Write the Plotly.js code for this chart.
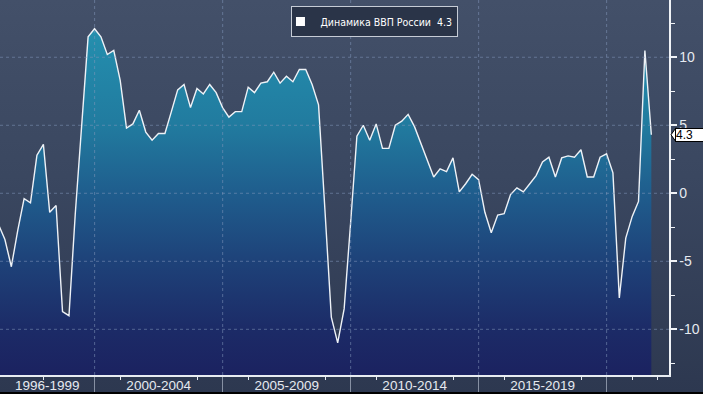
<!DOCTYPE html>
<html><head><meta charset="utf-8">
<script src="https://cdn.plot.ly/plotly-3.0.1.min.js"></script>
<style>
html,body{margin:0;padding:0;background:#000;overflow:hidden;}
#chart{width:703px;height:392px;background:linear-gradient(to bottom,#435069 0%,#3a4760 45%,#2d3850 100%);}
</style></head><body><div id="chart"></div>
<script>
// ---- data ----
const seriesName = 'Динамика ВВП России';
const startYear = 1996;          // first quarter is Q1 1996
const quarterEndDays = ['03-31', '06-30', '09-30', '12-31'];
const gdp = [
  -2.3, -3.4, -5.4, -2.7,   // 1996
  -0.4, -0.7,  2.8,  3.6,   // 1997
  -1.4, -0.9, -8.7, -9.0,   // 1998
  -1.5,  4.8, 11.5, 12.1,   // 1999
  11.5, 10.2, 10.5,  8.3,   // 2000
   4.8,  5.1,  6.1,  4.5,   // 2001
   3.9,  4.4,  4.4,  6.0,   // 2002
   7.6,  8.0,  6.3,  7.7,   // 2003
   7.3,  8.0,  7.4,  6.3,   // 2004
   5.6,  6.0,  6.0,  7.8,   // 2005
   7.4,  8.1,  8.2,  8.9,   // 2006
   8.1,  8.6,  8.2,  9.1,   // 2007
   9.1,  8.0,  6.5, -1.3,   // 2008
  -9.1,-11.0, -8.5, -2.2,   // 2009
   4.2,  5.0,  3.9,  5.1,   // 2010
   3.3,  3.3,  5.0,  5.3,   // 2011
   5.8,  4.9,  3.7,  2.5,   // 2012
   1.2,  1.8,  1.6,  2.6,   // 2013
   0.1,  0.7,  1.4,  1.0,   // 2014
  -1.4, -2.9, -1.6, -1.5,   // 2015
  -0.1,  0.4,  0.1,  0.7,   // 2016
   1.3,  2.3,  2.65, 1.2,   // 2017
   2.6,  2.75, 2.65, 3.2,   // 2018
   1.2,  1.2,  2.65, 2.9,   // 2019
   1.5, -7.7, -3.3, -1.7,   // 2020
  -0.6, 10.5,  4.3          // 2021
];
const blockStarts = ['1996-01-01', '2000-01-01', '2005-01-01', '2010-01-01', '2015-01-01', '2020-01-01', '2025-01-01'];
const blockLabels = ['1996-1999', '2000-2004', '2005-2009', '2010-2014', '2015-2019', ''];
const xMinorTicks = ['1998-01-01', '2001-01-01', '2004-01-01', '2006-01-01', '2009-01-01', '2011-01-01', '2014-01-01', '2016-01-01', '2019-01-01', '2021-01-01', '2022-01-01'];
const yTicks = [10, 5, 0, -5, -10];
const yTickText = ['10', '5', '0', '-5', '-10'];
const yMinorTicks = [12.5, 7.5, 2.5, -2.5, -7.5, -12.5];
const xRange = ['1996-04-21', '2022-06-09'];
const yRange = [-13.36, 14.21];

// ---- styles ----
const gradStops = [-13.36, -10, -5, 0, 5, 10, 12.1];
const gradColors = ['#1b2260', '#1c2b67', '#1e4279', '#1f5d8d', '#217b9f', '#2389aa', '#2590ae'];
const sans = 'Liberation Sans, Arial, sans-serif';
const xFont = {family: sans, size: 13.5, color: '#e6eaf0'};
const yFont = {family: sans, size: 14, color: '#e6eaf0'};
const legendFont = {family: 'DejaVu Sans Condensed, Liberation Sans, sans-serif', size: 10.5, color: '#ffffff'};
const gridColor = 'rgba(130,150,185,0.55)';

// ---- build ----
const dates = gdp.map((v, i) => (startYear + Math.floor(i / 4)) + '-' + quarterEndDays[i % 4]);
const baseline = dates.map(() => yRange[0]);
const lastVal = gdp[gdp.length - 1];

const g0 = gradStops[0], g1 = gradStops[gradStops.length - 1];
const colorscale = gradStops.map((s, i) => [(s - g0) / (g1 - g0), gradColors[i]]);

const ms = d => new Date(d + 'T00:00:00Z').getTime();
const labelCenters = [], labelTexts = [];
for (let i = 0; i < blockLabels.length; i++) {
  if (!blockLabels[i]) continue;
  const s = Math.max(ms(blockStarts[i]), ms(xRange[0]));
  const e = Math.min(ms(blockStarts[i + 1]), ms(xRange[1]));
  labelCenters.push((s + e) / 2);
  labelTexts.push(blockLabels[i]);
}
const separators = blockStarts.filter(d => ms(d) > ms(xRange[0]) && ms(d) < ms(xRange[1]));

const traces = [
  {x: dates, y: baseline, mode: 'lines', line: {width: 0, color: 'rgba(0,0,0,0)'},
   hoverinfo: 'skip', showlegend: false},
  {x: dates, y: gdp, mode: 'lines', name: seriesName,
   line: {color: '#eef2f7', width: 1.4},
   fill: 'tonexty',
   fillgradient: {type: 'vertical', colorscale: colorscale, start: g0, stop: g1},
   showlegend: false},
  {x: [null], y: [null], xaxis: 'x2', yaxis: 'y', mode: 'markers',
   name: seriesName + '\u00a0\u00a0' + lastVal.toFixed(1),
   marker: {symbol: 'square', size: 9, color: '#ffffff', line: {width: 0}},
   showlegend: true}
];

const shapes = [];
yTicks.forEach(v => shapes.push({type: 'line', xref: 'paper', x0: 0, x1: 1, yref: 'y', y0: v, y1: v,
  line: {color: gridColor, width: 1, dash: 'dot'}, layer: 'above'}));
separators.forEach(d => shapes.push({type: 'line', xref: 'x', x0: d, x1: d, yref: 'paper', y0: 0, y1: 1,
  line: {color: gridColor, width: 1, dash: 'dot'}, layer: 'above'}));
shapes.push({type: 'path', xref: 'paper', xsizemode: 'pixel', xanchor: 1,
  yref: 'y', ysizemode: 'pixel', yanchor: lastVal,
  path: 'M 2,0 L 7,7 L 7,-7 Z', fillcolor: '#ffffff', line: {color: '#000000', width: 1}, layer: 'above'});

const layout = {
  width: 703, height: 392,
  margin: {l: 0, r: 34, t: 0, b: 17, pad: 0},
  paper_bgcolor: 'rgba(0,0,0,0)', plot_bgcolor: 'rgba(0,0,0,0)',
  showlegend: true,
  legend: {x: 0.5605, xanchor: 'center', y: 0.984, yanchor: 'top',
    bgcolor: '#2a3448', bordercolor: '#c6ccd6', borderwidth: 1, indentation: -12,
    font: legendFont},
  xaxis: {type: 'date', range: xRange, tickmode: 'array', tickvals: separators,
    ticktext: separators.map(() => ''), ticks: 'outside', ticklen: 17, tickwidth: 1, tickcolor: '#8690a3',
    showline: true, linecolor: '#e8ecf2', linewidth: 1.5, showgrid: false, zeroline: false,
    minor: {tickmode: 'array', tickvals: xMinorTicks, ticks: 'outside', ticklen: 3, tickwidth: 1, tickcolor: '#e8ecf2', showgrid: false},
    fixedrange: true},
  xaxis2: {type: 'date', range: xRange, overlaying: 'x', anchor: 'y', side: 'bottom',
    tickmode: 'array', tickvals: labelCenters, ticktext: labelTexts, ticks: '',
    showline: false, showgrid: false, zeroline: false, tickfont: xFont, ticklabelstandoff: 0, fixedrange: true},
  yaxis: {side: 'right', range: yRange, tickmode: 'array', tickvals: yTicks, ticktext: yTickText,
    ticks: 'outside', ticklen: 6, tickwidth: 2, tickcolor: '#f0f3f7',
    showline: true, linecolor: '#f0f3f7', linewidth: 1.5, showgrid: false, zeroline: false,
    minor: {tickmode: 'array', tickvals: yMinorTicks, ticks: 'outside', ticklen: 4, tickwidth: 1, tickcolor: '#f0f3f7', showgrid: false},
    tickfont: yFont, fixedrange: true},
  annotations: [{xref: 'paper', x: 1, xanchor: 'left', xshift: 6, yref: 'y', y: lastVal, yanchor: 'middle',
    text: lastVal.toFixed(1), showarrow: false, align: 'left', width: 28, height: 12,
    font: {family: sans, size: 12, color: '#000000'},
    bgcolor: '#ffffff', bordercolor: '#000000', borderwidth: 1, borderpad: 0}],
  shapes: shapes
};

Plotly.newPlot('chart', traces, layout, {displayModeBar: false, staticPlot: true});
</script>
</body></html>
